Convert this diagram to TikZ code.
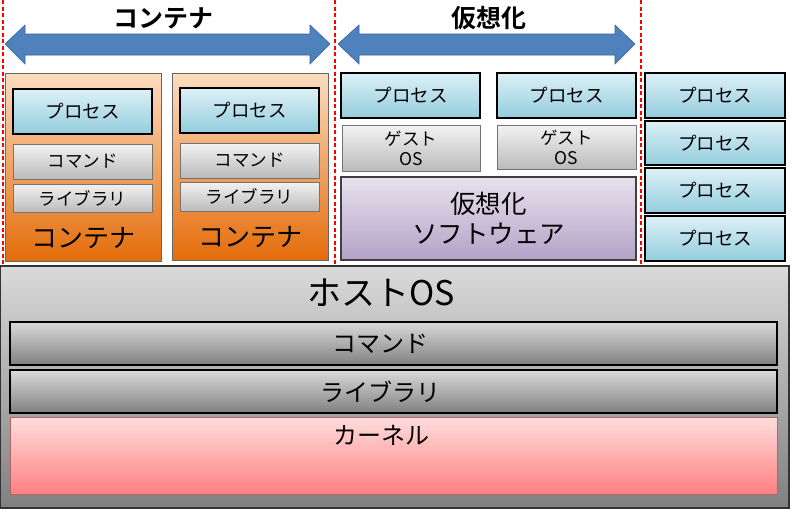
\documentclass[tikz,border=0pt]{standalone}
\usepackage{fontspec}
\setmainfont{Noto Sans CJK JP}
\newfontfamily\jpb[BoldFont={Noto Sans CJK JP Bold}]{Noto Sans CJK JP}
\definecolor{ctop}{HTML}{FDDCC0}
\definecolor{cbot}{HTML}{E46C0A}
\definecolor{ptop}{HTML}{DDF0F6}
\definecolor{pbot}{HTML}{93CDDD}
\definecolor{gtop}{HTML}{F2F2F2}
\definecolor{gbot}{HTML}{BBBBBB}
\definecolor{vtop}{HTML}{E8E2EE}
\definecolor{vbot}{HTML}{B3A2C7}
\definecolor{htop}{HTML}{DADADA}
\definecolor{hbot}{HTML}{808080}
\definecolor{ktop}{HTML}{FFDDDD}
\definecolor{kbot}{HTML}{FF8080}
\definecolor{afill}{HTML}{4F81BD}
\definecolor{aline}{HTML}{3A6594}
\definecolor{sepred}{HTML}{FF0000}
\begin{document}
\begin{tikzpicture}[x=1pt,y=-1pt,
  base/.style={inner sep=0pt,outer sep=0pt,align=center},
  cont/.style={base,draw=black!60,line width=0.7pt,top color=ctop,bottom color=cbot},
  proc/.style={base,draw=black,line width=1.6pt,top color=ptop,bottom color=pbot,font=\fontsize{18.5}{21}\selectfont},
  small/.style={base,draw=black!55,line width=1pt,top color=gtop,bottom color=gbot,font=\fontsize{17.5}{19}\selectfont},
  vsoft/.style={base,draw=black!75,line width=1.2pt,top color=vtop,bottom color=vbot,font=\fontsize{25.5}{30}\selectfont},
  host/.style={base,draw=black!80,line width=1.2pt,top color=htop,bottom color=hbot},
  hlayer/.style={base,draw=black,line width=1.6pt,top color=htop,bottom color=hbot,font=\fontsize{24}{27}\selectfont},
  kern/.style={base,draw=red!50!black!60,line width=0.7pt,top color=ktop,bottom color=kbot},
  lbl/.style={base,font=\fontsize{26}{30}\selectfont},
  ttl/.style={base,font=\jpb\bfseries\fontsize{25}{29}\selectfont},
  bigarrow/.style={fill=afill,draw=aline,line width=0.6pt},
  sepline/.style={draw=sepred,line width=1.6pt,dash pattern=on 4pt off 2.5pt}
]
\useasboundingbox (0,0) rectangle (790,509);
\fill[white] (0,0) rectangle (790,509);

% titles and arrows
\node[ttl] (t1) at (163,18) {コンテナ};
\node[ttl] (t2) at (489,18) {仮想化};
\draw[bigarrow] (5,44) -- (25,25) -- (25,34) -- (310,34) -- (310,25) -- (330,44)
  -- (310,64) -- (310,55) -- (25,55) -- (25,64) -- cycle;
\draw[bigarrow] (338,44) -- (359,25) -- (359,34) -- (615,34) -- (615,25) -- (635,44)
  -- (615,64) -- (615,55) -- (359,55) -- (359,64) -- cycle;

% containers
\node[cont,minimum width=156,minimum height=188] (c1) at (83,167) {};
\node[proc,minimum width=139,minimum height=45] (c1p) at (82.5,111.5) {プロセス};
\node[small,minimum width=139,minimum height=35] (c1c) at (82.5,161.5) {コマンド};
\node[small,minimum width=139,minimum height=28] (c1l) at (82.5,198) {ライブラリ};
\node[lbl] (c1t) at (83,238) {コンテナ};

\node[cont,minimum width=156,minimum height=187] (c2) at (250,166.5) {};
\node[proc,minimum width=139,minimum height=45] (c2p) at (249.5,110.5) {プロセス};
\node[small,minimum width=139,minimum height=35] (c2c) at (249.5,160.5) {コマンド};
\node[small,minimum width=139,minimum height=29] (c2l) at (249.5,196.5) {ライブラリ};
\node[lbl] (c2t) at (250,237) {コンテナ};

% virtualization
\node[proc,minimum width=139,minimum height=45] (v1p) at (410.5,95.5) {プロセス};
\node[proc,minimum width=139,minimum height=45] (v2p) at (566.5,95.5) {プロセス};
\node[small,minimum width=138,minimum height=46,font=\fontsize{17.5}{20}\selectfont] (g1) at (411,148) {ゲスト\\OS};
\node[small,minimum width=139,minimum height=44,font=\fontsize{17.5}{20}\selectfont] (g2) at (566.5,147) {ゲスト\\OS};
\node[vsoft,minimum width=295,minimum height=83] (vs) at (488.5,218.5) {仮想化\\ソフトウェア};

% native processes
\node[proc,minimum width=140,minimum height=45] (r1) at (715,95.5) {プロセス};
\node[proc,minimum width=140,minimum height=44] (r2) at (715,143) {プロセス};
\node[proc,minimum width=140,minimum height=45] (r3) at (715,190.5) {プロセス};
\node[proc,minimum width=140,minimum height=45] (r4) at (715,238.5) {プロセス};

% separators
\coordinate (s1a) at (3,0); \coordinate (s1b) at (3,268);
\coordinate (s2a) at (335,0); \coordinate (s2b) at (335,268);
\coordinate (s3a) at (641,0); \coordinate (s3b) at (641,268);
\draw[sepline] (s1a) -- (s1b);
\draw[sepline] (s2a) -- (s2b);
\draw[sepline] (s3a) -- (s3b);

% host OS
\node[host,minimum width=789,minimum height=242] (h) at (394.5,387) {};
\node[base,font=\fontsize{34}{38}\selectfont] (ht) at (381,293) {ホストOS};
\node[hlayer,minimum width=767,minimum height=43] (hc) at (393.5,343.5) {\hspace*{-27pt}コマンド};
\node[hlayer,minimum width=767,minimum height=43] (hl) at (393.5,391.5) {\hspace*{-27pt}ライブラリ};
\node[kern,minimum width=767,minimum height=77] (k) at (393.5,455.5) {};
\node[base,font=\fontsize{24}{27}\selectfont] (kt) at (381,435) {カーネル};
\end{tikzpicture}
\end{document}
